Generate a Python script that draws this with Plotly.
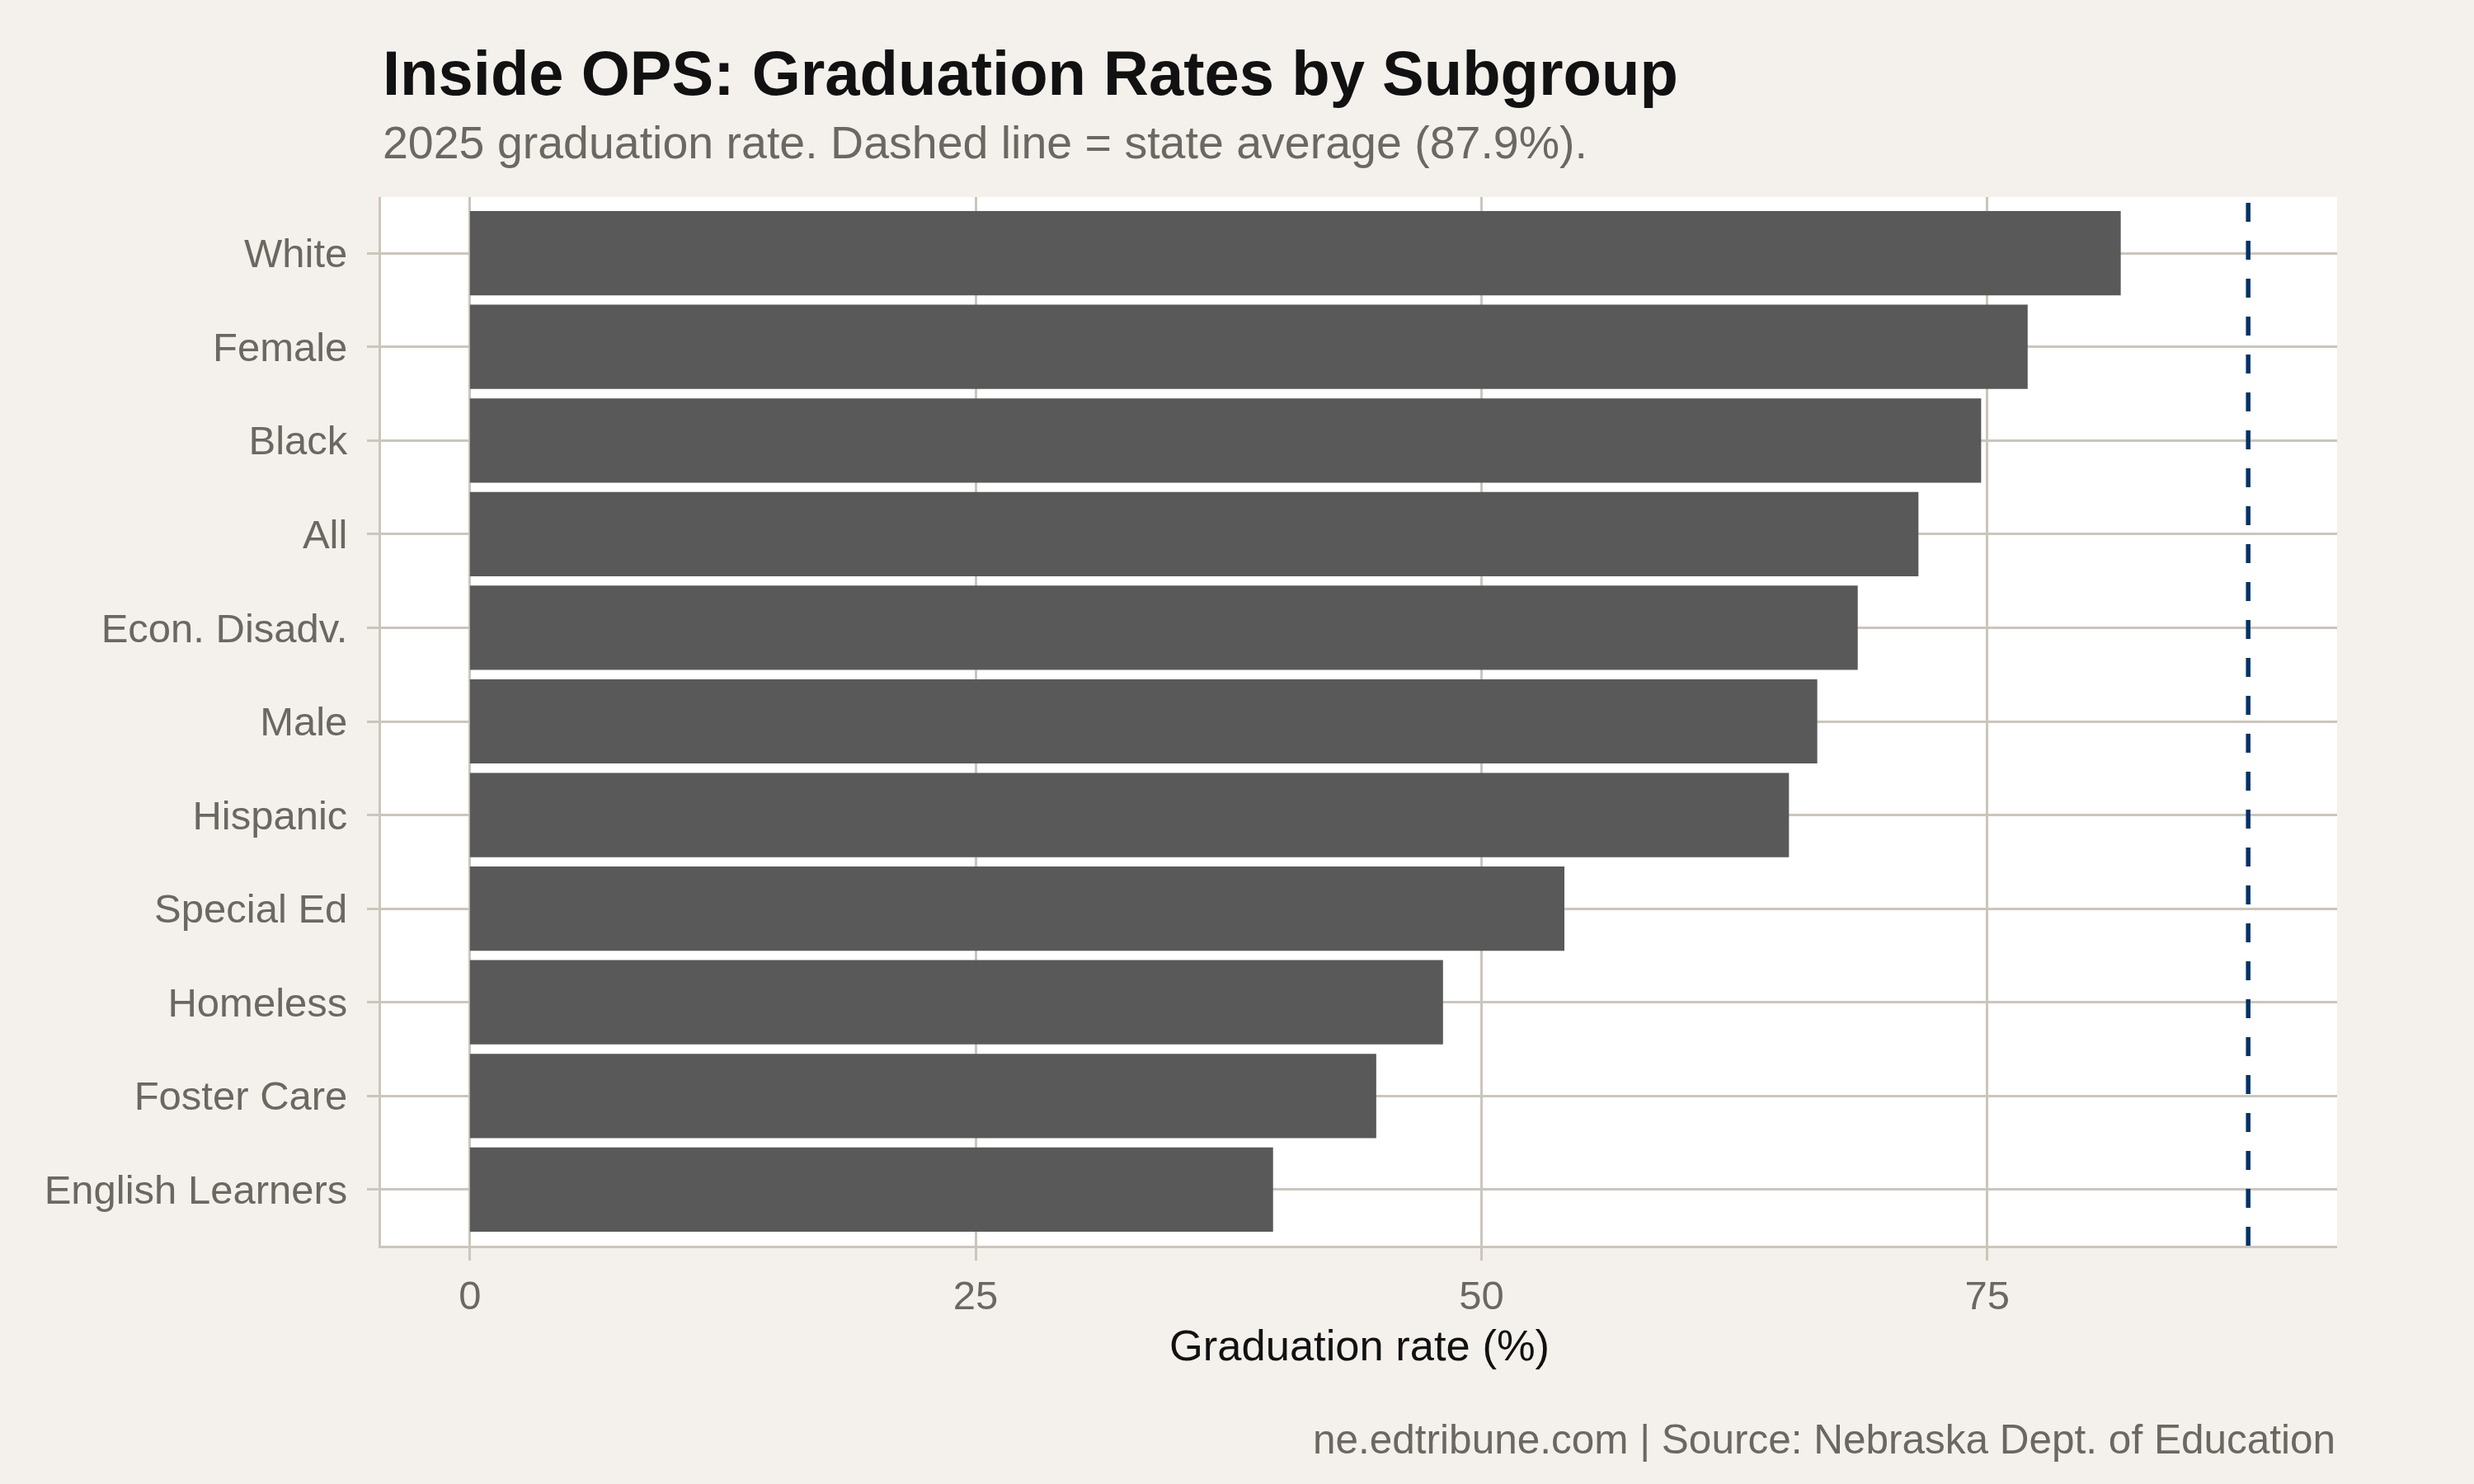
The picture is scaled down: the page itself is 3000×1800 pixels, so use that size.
import plotly.graph_objects as go

# ---------------------------------------------------------- DATA ----------------------------------------------------------#
# subgroups, top to bottom as drawn
subgroups = ['White', 'Female', 'Black', 'All', 'Econ. Disadv.', 'Male', 'Hispanic',
             'Special Ed', 'Homeless', 'Foster Care', 'English Learners']
# 2025 graduation rate (%)
gradRates = [81.6, 77.0, 74.7, 71.6, 68.6, 66.6, 65.2, 54.1, 48.1, 44.8, 39.7]
stateAverage = 87.9
xTickValues = [0, 25, 50, 75]

# ---------------------------------------------------------- STYLE ----------------------------------------------------------#
bgColor = '#F4F1EC'
gridColor = '#CCC5BA'
greyText = '#6B6761'
fontName = 'Liberation Sans'

fig = go.Figure([go.Bar(x=gradRates, y=subgroups, orientation='h', width=0.9,
                        marker=dict(color='#595959', line=dict(width=0)))])

# state average reference line spans the whole panel
fig.add_shape(type='line', xref='x', yref='paper', x0=stateAverage, x1=stateAverage, y0=0, y1=1,
              line=dict(color='#003366', width=5.5, dash='23px,23px'))

# ggplot style 5% expansion on x, 0.6 on discrete y
xPad = stateAverage * 0.05
fig.update_xaxes(range=[-xPad, stateAverage + xPad], tickvals=xTickValues, showgrid=True,
                 gridcolor=gridColor, gridwidth=2.7, zeroline=False, showline=True,
                 linecolor=gridColor, linewidth=2.7, ticks='outside', ticklen=15,
                 tickcolor=gridColor, tickwidth=2.7,
                 tickfont=dict(family=fontName, size=49, color=greyText))
fig.update_yaxes(range=[len(subgroups) - 0.4, -0.6], categoryorder='array', categoryarray=subgroups,
                 showgrid=True, gridcolor=gridColor, gridwidth=2.7, zeroline=False, showline=True,
                 linecolor=gridColor, linewidth=2.7, ticks='outside', ticklen=14,
                 tickcolor=gridColor, tickwidth=2.7, ticklabelstandoff=14,
                 tickfont=dict(family=fontName, size=49, color=greyText))

annotations = [
    dict(text='<b>Inside OPS: Graduation Rates by Subgroup</b>', x=0, y=1.1181, xanchor='left',
         yanchor='middle', font=dict(family=fontName, size=76, color='#111111')),
    dict(text='2025 graduation rate. Dashed line = state average (87.9%).', x=0, y=1.0519,
         xanchor='left', yanchor='middle', font=dict(family=fontName, size=55.5, color=greyText)),
    dict(text='Graduation rate (%)', x=0.5, y=-0.0951, xanchor='center', yanchor='middle',
         font=dict(family=fontName, size=52.5, color='#111111')),
    dict(text='ne.edtribune.com | Source: Nebraska Dept. of Education', x=1, y=-0.184,
         xanchor='right', yanchor='middle', font=dict(family=fontName, size=49.5, color=greyText)),
]
for a in annotations:
    a.update(xref='paper', yref='paper', showarrow=False)

fig.update_layout(width=3000, height=1800, paper_bgcolor=bgColor, plot_bgcolor='white',
                  margin=dict(l=462, r=166, t=239, b=289), showlegend=False,
                  annotations=annotations, bargap=0.1)

# drop the page's default body margin so the figure fills the window exactly
fig.write_html('out.html', config={'displayModeBar': False},
               post_script="document.body.style.margin='0';document.body.style.overflow='hidden';")
